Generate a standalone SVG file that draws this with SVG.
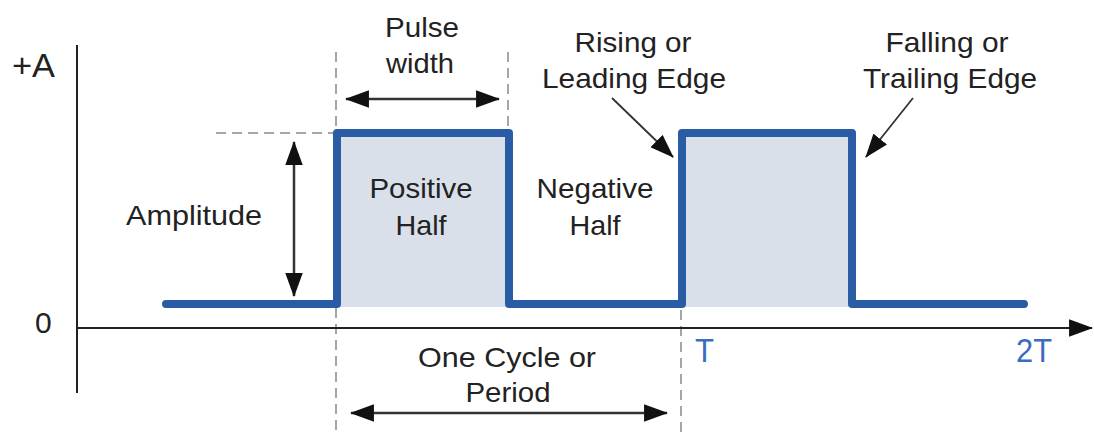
<svg xmlns="http://www.w3.org/2000/svg" width="1094" height="435" viewBox="0 0 1094 435">
<style>
text{font-family:"Liberation Sans",Arial,sans-serif;font-size:28.5px;fill:#222}
.c{text-anchor:middle}
.blue{fill:#3a6dbf}
.dash{stroke:#a6a6a6;stroke-width:2;stroke-dasharray:10 6;fill:none}
.axis{stroke:#222;stroke-width:2;fill:none}
.arr{stroke:#333;stroke-width:2.5;fill:none}
.thin{stroke:#333;stroke-width:1.8;fill:none}
.wave{stroke:#2a5ca6;stroke-width:8;fill:none;stroke-linejoin:round;stroke-linecap:round}
.pulse{fill:#d9e0ea}
</style>
<defs>
<marker id="ah" markerUnits="userSpaceOnUse" markerWidth="24" markerHeight="18" viewBox="0 0 22 16" refX="21" refY="8" orient="auto-start-reverse">
<path d="M0,0 L22,8 L0,16 z" fill="#111"/>
</marker>
</defs>
<g id="guides">
<line class="dash" x1="336" y1="52" x2="336" y2="435"/>
<line class="dash" x1="508" y1="52" x2="508" y2="128"/>
<line class="dash" x1="681" y1="310" x2="681" y2="435"/>
<line class="dash" x1="216" y1="133" x2="336" y2="133"/>
</g>
<g id="axes">
<line class="axis" x1="77" y1="45" x2="77" y2="393"/>
<line class="axis" x1="77" y1="328" x2="1092" y2="328" marker-end="url(#ah)"/>
<text x="12" y="77" style="font-size:34px" textLength="43" lengthAdjust="spacingAndGlyphs">+A</text>
<text x="35" y="333" style="font-size:30px">0</text>
<text x="695" y="362" class="blue" style="font-size:34px" textLength="19" lengthAdjust="spacingAndGlyphs">T</text>
<text x="1016" y="362" class="blue" style="font-size:34px" textLength="36" lengthAdjust="spacingAndGlyphs">2T</text>
</g>
<g id="waveform">
<rect class="pulse" x="337" y="133" width="172" height="174"/>
<rect class="pulse" x="682" y="133" width="170" height="174"/>
<path class="wave" d="M166,304 H337 V133 H509 V304 H682 V133 H852 V304 H1024"/>
</g>
<g id="connectors">
<line class="arr" x1="346" y1="99" x2="499" y2="99" marker-start="url(#ah)" marker-end="url(#ah)"/>
<line class="arr" x1="294" y1="142" x2="294" y2="296" marker-start="url(#ah)" marker-end="url(#ah)"/>
<line class="arr" x1="351" y1="413" x2="667" y2="413" marker-start="url(#ah)" marker-end="url(#ah)"/>
<line class="thin" x1="612" y1="98" x2="673" y2="157" marker-end="url(#ah)"/>
<line class="thin" x1="913" y1="98" x2="866" y2="157" marker-end="url(#ah)"/>
</g>
<g id="label-pulse-width">
<text class="c" x="422" y="37" textLength="74" lengthAdjust="spacingAndGlyphs">Pulse</text>
<text class="c" x="420" y="73" textLength="68" lengthAdjust="spacingAndGlyphs">width</text>
</g>
<g id="label-rising">
<text class="c" x="633" y="52" textLength="117" lengthAdjust="spacingAndGlyphs">Rising or</text>
<text class="c" x="634" y="88" textLength="184" lengthAdjust="spacingAndGlyphs">Leading Edge</text>
</g>
<g id="label-falling">
<text class="c" x="947" y="52" textLength="123" lengthAdjust="spacingAndGlyphs">Falling or</text>
<text class="c" x="950" y="88" textLength="174" lengthAdjust="spacingAndGlyphs">Trailing Edge</text>
</g>
<g id="label-amplitude">
<text class="c" x="194" y="225" textLength="136" lengthAdjust="spacingAndGlyphs">Amplitude</text>
</g>
<g id="label-positive">
<text class="c" x="421" y="198" textLength="103" lengthAdjust="spacingAndGlyphs">Positive</text>
<text class="c" x="421" y="235" textLength="51" lengthAdjust="spacingAndGlyphs">Half</text>
</g>
<g id="label-negative">
<text class="c" x="595" y="198" textLength="117" lengthAdjust="spacingAndGlyphs">Negative</text>
<text class="c" x="595" y="235" textLength="51" lengthAdjust="spacingAndGlyphs">Half</text>
</g>
<g id="label-period">
<text class="c" x="507" y="367" textLength="178" lengthAdjust="spacingAndGlyphs">One Cycle or</text>
<text class="c" x="508" y="402" textLength="85" lengthAdjust="spacingAndGlyphs">Period</text>
</g>
</svg>
